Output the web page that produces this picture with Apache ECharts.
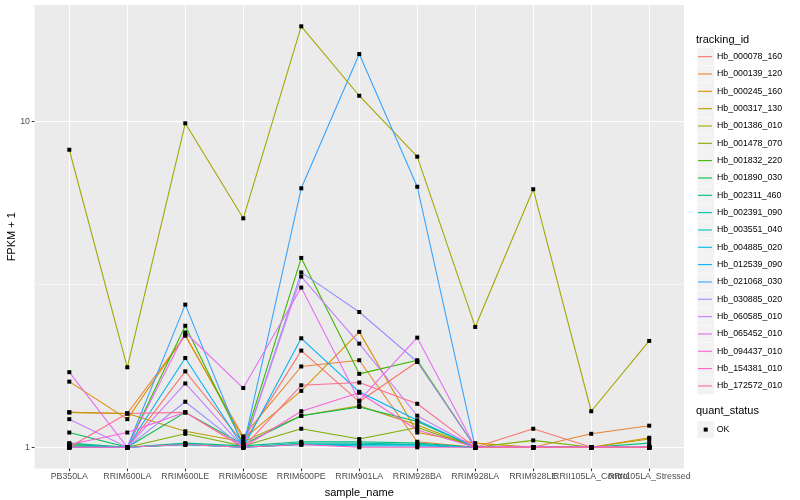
<!DOCTYPE html>
<html><head><meta charset="utf-8">
<script src="https://cdn.jsdelivr.net/npm/echarts@6/dist/echarts.min.js"></script>
<style>html,body{margin:0;padding:0;background:#fff}#c{width:800px;height:500px}</style>
</head><body><div id="c"></div>
<script>
const categories = ['PB350LA','RRIM600LA','RRIM600LE','RRIM600SE','RRIM600PE','RRIM901LA','RRIM928BA','RRIM928LA','RRIM928LE','RRII105LA_Control','RRII105LA_Stressed'];
const trackingIds = ['Hb_000078_160','Hb_000139_120','Hb_000245_160','Hb_000317_130','Hb_001386_010','Hb_001478_070','Hb_001832_220','Hb_001890_030','Hb_002311_460','Hb_002391_090','Hb_003551_040','Hb_004885_020','Hb_012539_090','Hb_021068_030','Hb_030885_020','Hb_060585_010','Hb_065452_010','Hb_094437_010','Hb_154381_010','Hb_172572_010'];
const colors = ['#F8766D','#EA8331','#D89000','#C09B00','#A3A500','#7CAE00','#39B600','#00BB4E','#00BF7D','#00C1A3','#00BFC4','#00BAE0','#00B0F6','#35A2FF','#9590FF','#C77CFF','#E76BF3','#FA62DB','#FF62BC','#FF6C90'];

const hb_000078_160 = [1.00, 1.00, 1.71, 1.03, 1.98, 1.38, 1.83, 1.00, 1.14, 1.00, 1.00];
const hb_000139_120 = [1.28, 1.27, 2.20, 1.08, 1.77, 1.85, 1.04, 1.00, 1.00, 1.10, 1.165];
const hb_000245_160 = [1.59, 1.22, 2.21, 1.06, 1.49, 2.26, 1.11, 1.03, 1.00, 1.00, 1.07];
const hb_000317_130 = [1.28, 1.27, 1.12, 1.04, 1.25, 1.34, 1.17, 1.00, 1.00, 1.00, 1.06];
const hb_001386_010 = [8.18, 1.76, 9.86, 5.04, 19.56, 11.98, 7.79, 2.34, 6.19, 1.29, 2.12];
const hb_001478_070 = [1.02, 1.00, 1.10, 1.01, 1.14, 1.06, 1.15, 1.00, 1.05, 1.00, 1.00];
const hb_001832_220 = [1.01, 1.00, 2.36, 1.02, 3.81, 1.68, 1.85, 1.00, 1.00, 1.00, 1.00];
const hb_001890_030 = [1.11, 1.00, 1.28, 1.02, 1.25, 1.33, 1.20, 1.00, 1.00, 1.00, 1.00];
const hb_002311_460 = [1.03, 1.00, 1.03, 1.01, 1.04, 1.04, 1.03, 1.00, 1.00, 1.00, 1.03];
const hb_002391_090 = [1.02, 1.00, 1.02, 1.00, 1.03, 1.03, 1.02, 1.00, 1.00, 1.00, 1.00];
const hb_003551_040 = [1.00, 1.00, 1.02, 1.00, 1.02, 1.02, 1.02, 1.00, 1.00, 1.00, 1.00];
const hb_004885_020 = [1.00, 1.00, 1.02, 1.00, 1.02, 1.01, 1.01, 1.00, 1.00, 1.00, 1.00];
const hb_012539_090 = [1.00, 1.00, 1.88, 1.00, 2.16, 1.48, 1.21, 1.00, 1.00, 1.00, 1.00];
const hb_021068_030 = [1.00, 1.00, 2.74, 1.00, 6.23, 16.08, 6.30, 1.00, 1.00, 1.00, 1.00];
const hb_030885_020 = [1.00, 1.00, 1.38, 1.00, 3.44, 2.60, 1.83, 1.00, 1.00, 1.00, 1.00];
const hb_060585_010 = [1.22, 1.00, 1.57, 1.00, 3.34, 2.08, 1.25, 1.00, 1.00, 1.00, 1.00];
const hb_065452_010 = [1.70, 1.00, 2.25, 1.52, 3.09, 1.39, 2.17, 1.00, 1.00, 1.00, 1.00];
const hb_094437_010 = [1.02, 1.11, 1.28, 1.00, 1.29, 1.47, 1.13, 1.00, 1.00, 1.00, 1.00];
const hb_154381_010 = [1.00, 1.00, 1.02, 1.00, 1.02, 1.00, 1.00, 1.00, 1.00, 1.00, 1.00];
const hb_172572_010 = [1.00, 1.27, 1.28, 1.00, 1.55, 1.58, 1.36, 1.00, 1.00, 1.00, 1.00];

const seriesValues = [hb_000078_160, hb_000139_120, hb_000245_160, hb_000317_130, hb_001386_010, hb_001478_070, hb_001832_220, hb_001890_030, hb_002311_460, hb_002391_090, hb_003551_040, hb_004885_020, hb_012539_090, hb_021068_030, hb_030885_020, hb_060585_010, hb_065452_010, hb_094437_010, hb_154381_010, hb_172572_010];
const yTickLabels = [1, 10];
const yMinorBreaks = [3.1623];
const quantStatus = ['OK'];

const FONT = "'Liberation Sans', Arial, Helvetica, sans-serif";
const catIdx = categories.map((c, i) => i);
// labels are split over two axes so that the overlapping pair both stay visible
const labelIdxA = catIdx.filter(i => i % 2 === 0);
const labelIdxB = catIdx.filter(i => i % 2 === 1);

const series = trackingIds.map((id, k) => ({
  name: id, type: 'line', xAxisIndex: 0, yAxisIndex: 0,
  data: seriesValues[k].map((v, i) => [i, v]),
  symbol: 'none', showSymbol: false,
  lineStyle: { width: 1.07, color: colors[k] },
  itemStyle: { color: colors[k] },
  silent: true, animation: false, z: 3
}));
const pts = [];
seriesValues.forEach(arr => arr.forEach((v, i) => pts.push([i, v])));
series.push({ name: quantStatus[0], type: 'scatter', xAxisIndex: 0, yAxisIndex: 0, data: pts,
  symbol: 'rect', symbolSize: 4, itemStyle: { color: '#000', opacity: 1 }, z: 5, silent: true, animation: false });

const keyTop = 48, keyStep = 17.33;
const graphics = [
  { type: 'text', left: 696, top: 34, z: 10, style: { text: 'tracking_id', font: '11px ' + FONT, fill: '#000' } },
  { type: 'text', left: 696, top: 405, z: 10, style: { text: 'quant_status', font: '11px ' + FONT, fill: '#000' } },
  { type: 'rect', shape: { x: 697.3, y: 421.2, width: 16.8, height: 16.8 }, style: { fill: '#F2F2F2' }, z: 1 },
  { type: 'rect', shape: { x: 703.7, y: 427.6, width: 4, height: 4 }, style: { fill: '#000' }, z: 10 },
  { type: 'text', left: 716.7, top: 425, z: 10, style: { text: quantStatus[0], font: '8.8px ' + FONT, fill: '#000' } }
];
trackingIds.forEach((id, i) => {
  graphics.push({ type: 'rect', shape: { x: 697.3, y: keyTop + i * keyStep + 0.25, width: 16.8, height: 16.8 }, style: { fill: '#F2F2F2' }, z: 1 });
});

const xLabelStyle = { formatter: v => categories[Math.round(v)], fontSize: 8.8, color: '#4D4D4D', margin: 4, fontFamily: FONT, hideOverlap: false, showMinLabel: true, showMaxLabel: true };

const chart = echarts.init(document.getElementById('c'), null, { renderer: 'canvas' });
chart.setOption({
  animation: false,
  backgroundColor: '#fff',
  textStyle: { fontFamily: FONT },
  grid: { left: 34.5, right: 116, top: 5, bottom: 31.5, show: true, backgroundColor: '#EBEBEB', borderWidth: 0, containLabel: false, outerBoundsMode: 'none' },
  legend: {
    data: trackingIds, orient: 'vertical', left: 698, top: keyTop, padding: 0, itemGap: 0,
    icon: 'rect', itemWidth: 14, itemHeight: 1.1, selectedMode: false,
    textStyle: { fontSize: 8.8, lineHeight: 17.33, color: '#000', fontFamily: FONT, padding: [0, 0, 0, 0] }
  },
  xAxis: [
    {
      type: 'value', min: -0.6, max: 10.6, position: 'bottom',
      axisLine: { show: false, onZero: false },
      axisTick: { show: true, customValues: catIdx, length: 2.75, lineStyle: { color: '#333333', width: 1.07 } },
      axisLabel: Object.assign({ customValues: labelIdxA }, xLabelStyle),
      splitLine: { show: true, lineStyle: { color: '#FFFFFF', width: 1.07 } },
      name: 'sample_name', nameLocation: 'middle', nameGap: 19, nameMoveOverlap: false,
      nameTextStyle: { fontSize: 11, color: '#000', fontFamily: FONT }
    },
    {
      type: 'value', min: -0.6, max: 10.6, position: 'bottom',
      axisLine: { show: false, onZero: false },
      axisTick: { show: false, customValues: labelIdxB },
      axisLabel: Object.assign({ customValues: labelIdxB }, xLabelStyle),
      splitLine: { show: false }
    }
  ],
  yAxis: [
    {
      type: 'log', logBase: 10, min: 0.861, max: 22.74, position: 'left',
      axisLine: { show: false, onZero: false },
      axisTick: { show: true, customValues: yTickLabels, length: 2.75, lineStyle: { color: '#333333', width: 1.07 } },
      axisLabel: { customValues: yTickLabels, formatter: v => String(Math.round(v)), fontSize: 8.8, color: '#4D4D4D', margin: 4.5, fontFamily: FONT },
      splitLine: { show: true, lineStyle: { color: '#FFFFFF', width: 1.07 } },
      name: 'FPKM + 1', nameLocation: 'middle', nameGap: 17, nameRotate: 90, nameMoveOverlap: false,
      nameTextStyle: { fontSize: 11, color: '#000', fontFamily: FONT }
    },
    {
      type: 'log', logBase: 10, min: 0.861, max: 22.74, position: 'left',
      axisLine: { show: false, onZero: false },
      axisTick: { show: false, customValues: yMinorBreaks },
      axisLabel: { show: false, customValues: yMinorBreaks },
      splitLine: { show: true, lineStyle: { color: '#FFFFFF', width: 0.53 } }
    }
  ],
  graphic: graphics,
  series: series
});
</script></body></html>
